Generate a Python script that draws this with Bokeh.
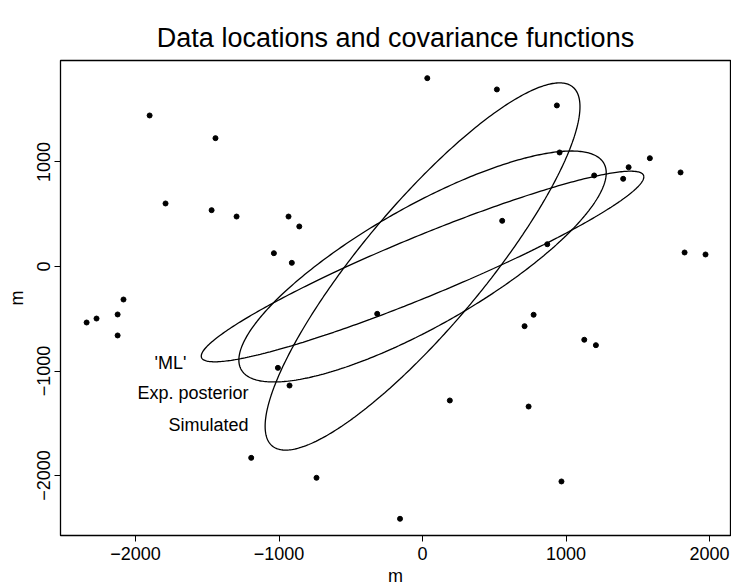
import numpy as np
from bokeh.plotting import figure
from bokeh.models import Range1d, FixedTicker
from bokeh.embed import file_html
from bokeh.resources import INLINE
from bokeh.core.properties import value

# Data locations (m)
loc_x = [-2341, -2272, -2125, -2125, -2084, -1902, -1791, -1443, -1470, -1296,
         -1036, -934, -859, -911, -1008, -927, -1194, -739, -157, 968,
         -316, 33, 518, 936, 955, 1584, 1436, 1196, 1398, 1798,
         1826, 1972, 555, 869, 774, 711, 1127, 1208, 190, 739]
loc_y = [-536, -498, -459, -660, -316, 1445, 603, 1228, 539, 478,
         127, 478, 383, 35, -970, -1139, -1831, -2022, -2414, -2057,
         -453, 1802, 1694, 1541, 1091, 1036, 950, 871, 839, 900,
         134, 115, 437, 213, -462, -571, -701, -753, -1282, -1340]

# Covariance function ellipses
ell_names = ["'ML'", "Exp. posterior", "Simulated"]
ell_cx = [0, 0, 0]
ell_cy = [0, 0, 0]
ell_sd_x = [1542, 1280, 1097]
ell_sd_y = [912, 1105, 1757]
ell_corr = [0.94, 0.81, 0.87]
label_x = [-1645, -1213, -1213]
label_y = [-919, -1215, -1512]

x_ticks = [-2000, -1000, 0, 1000, 2000]
y_ticks = [-2000, -1000, 0, 1000]

FONT = "Liberation Sans"

p = figure(width=731, height=588,
           x_range=Range1d(-2523, 2146), y_range=Range1d(-2574, 1971),
           output_backend="svg", toolbar_location=None,
           min_border_left=60, min_border_right=1,
           min_border_top=60, min_border_bottom=53)

p.title.text = "Data locations and covariance functions"
p.title.align = "center"
p.title.text_font = FONT
p.title.text_font_size = "27px"
p.title.text_font_style = "normal"
p.title.text_color = "black"
p.title.standoff = 15

p.grid.visible = False
p.outline_line_color = "black"
p.outline_line_width = 1.3
p.background_fill_color = "white"
p.border_fill_color = "white"

for ax, ticks in ((p.xaxis, x_ticks), (p.yaxis, y_ticks)):
    ax.ticker = FixedTicker(ticks=ticks, minor_ticks=[])
    ax.axis_label = "m"
    ax.axis_label_text_font = FONT
    ax.axis_label_text_font_size = "18px"
    ax.axis_label_text_font_style = "normal"
    ax.axis_label_text_color = "black"
    ax.major_label_text_font = FONT
    ax.major_label_text_font_size = "18px"
    ax.major_label_text_color = "black"
    ax.major_tick_in = 0
    ax.major_tick_out = 6
    ax.major_tick_line_color = "black"
    ax.axis_line_color = "black"
    ax.minor_tick_line_color = None

p.xaxis.major_label_standoff = 5
p.xaxis.axis_label_standoff = 3
p.yaxis.major_label_orientation = "vertical"
p.yaxis.major_label_standoff = 4
p.yaxis.axis_label_standoff = 8

t = np.linspace(0, 2 * np.pi, 400)
for cx, cy, sx, sy, r in zip(ell_cx, ell_cy, ell_sd_x, ell_sd_y, ell_corr):
    ex = cx + sx * np.cos(t)
    ey = cy + sy * (r * np.cos(t) + np.sqrt(1 - r * r) * np.sin(t))
    p.line(ex, ey, line_color="black", line_width=1.3)

p.scatter(loc_x, loc_y, size=5, color="black")

p.text(x=label_x, y=label_y, text=ell_names, text_align="right",
       text_baseline="middle", text_font=value(FONT),
       text_font_size="18px", text_color="black")

open("out.html", "w").write(file_html(p, INLINE))
